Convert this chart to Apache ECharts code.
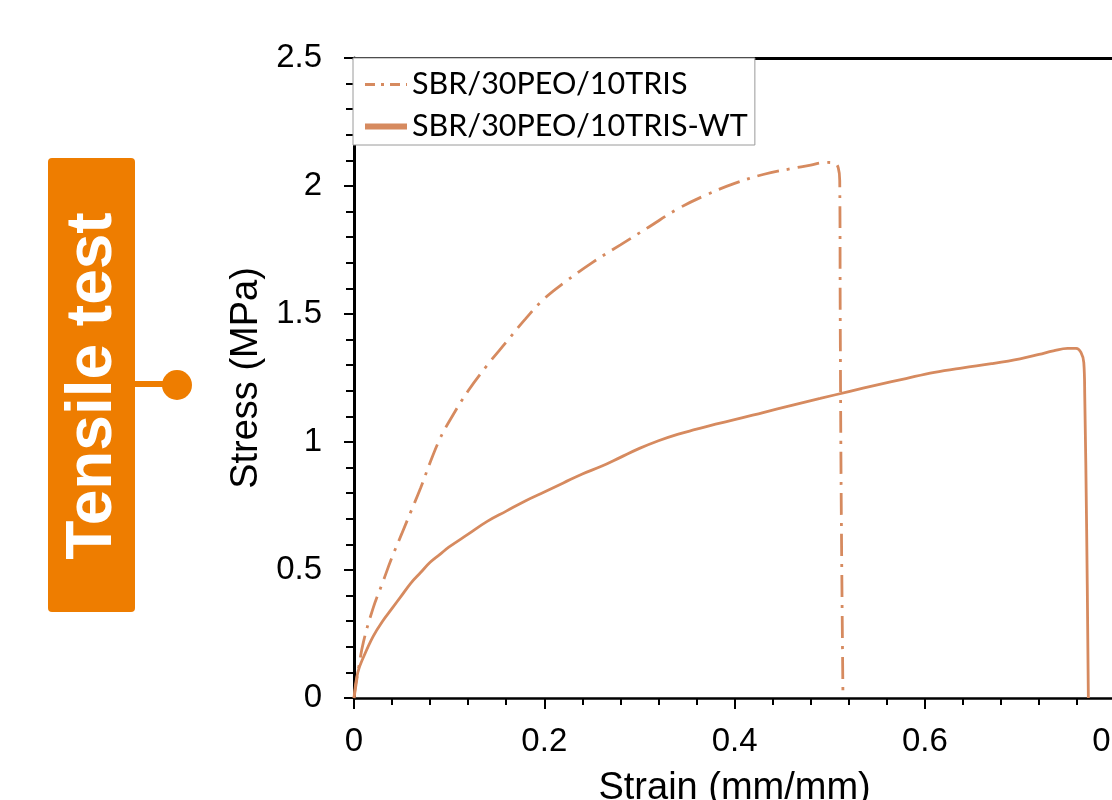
<!DOCTYPE html>
<html>
<head>
<meta charset="utf-8">
<script src="https://cdn.jsdelivr.net/npm/echarts@6/dist/echarts.min.js"></script>
<style>
  html, body { margin: 0; padding: 0; background: #ffffff; }
  #chart { width: 1112px; height: 800px; }
</style>
</head>
<body>
<div id="chart"></div>
<script>
// Tensile test: stress-strain curves of two SBR/PEO/TRIS films
const seriesNames = ['SBR/30PEO/10TRIS', 'SBR/30PEO/10TRIS-WT'];

// SBR/30PEO/10TRIS (dash-dot curve)
const strainTris = [0, 0.005, 0.01, 0.02, 0.03, 0.04, 0.05, 0.06, 0.07, 0.08, 0.09, 0.10,
  0.12, 0.14, 0.16, 0.18, 0.20, 0.22, 0.25, 0.28, 0.31, 0.34, 0.37, 0.40, 0.43, 0.46,
  0.48, 0.495, 0.505, 0.509, 0.5105, 0.511, 0.512, 0.5139];
const stressTris = [0, 0.12, 0.22, 0.35, 0.45, 0.55, 0.64, 0.73, 0.82, 0.92, 1.01, 1.08,
  1.20, 1.30, 1.39, 1.48, 1.56, 1.62, 1.70, 1.77, 1.84, 1.91, 1.965, 2.01, 2.045, 2.068,
  2.082, 2.092, 2.09, 2.07, 2.02, 1.5, 0.8, 0];

// SBR/30PEO/10TRIS-WT (solid curve)
const strainWt = [0, 0.004, 0.01, 0.02, 0.03, 0.04, 0.05, 0.06, 0.07, 0.08, 0.09, 0.10,
  0.12, 0.14, 0.16, 0.18, 0.20, 0.22, 0.24, 0.26, 0.28, 0.30, 0.32, 0.34, 0.36, 0.38, 0.40,
  0.43, 0.46, 0.49, 0.52, 0.55, 0.58, 0.61, 0.64, 0.67, 0.70, 0.72, 0.735, 0.75, 0.759,
  0.764, 0.767, 0.768, 0.770, 0.7718];
const stressWt = [0, 0.10, 0.16, 0.24, 0.30, 0.35, 0.40, 0.45, 0.49, 0.53, 0.56, 0.59,
  0.64, 0.69, 0.73, 0.77, 0.805, 0.84, 0.875, 0.905, 0.94, 0.975, 1.005, 1.03, 1.05, 1.07, 1.087,
  1.115, 1.143, 1.17, 1.197, 1.223, 1.248, 1.272, 1.29, 1.306, 1.325, 1.342, 1.356, 1.366, 1.366,
  1.35, 1.31, 1.18, 0.656, 0];

// Axis ticks
const strainTicks = [0, 0.2, 0.4, 0.6, 0.8];
const stressTicks = [0, 0.5, 1, 1.5, 2, 2.5];

const curveColor = '#D68A5F';
const badgeColor = '#EE7D00';

const pairs = (xs, ys) => xs.map((x, i) => [x, ys[i]]);

const chart = echarts.init(document.getElementById('chart'), null, { renderer: 'canvas' });

const tickFont = { fontFamily: 'Liberation Sans, Arial, sans-serif', fontSize: 33, color: '#000' };
const titleFont = { fontFamily: 'Liberation Sans, Arial, sans-serif', fontSize: 38, color: '#000' };

chart.setOption({
  backgroundColor: '#ffffff',
  animation: false,
  grid: {
    left: 354, top: 58, width: 761.2, height: 640,
    containLabel: false,
    outerBoundsMode: 'none'
  },
  legend: {
    orient: 'vertical',
    left: 353, top: 58,
    padding: [11, 7, 3, 9],
    itemGap: 11,
    itemWidth: 42, itemHeight: 14,
    backgroundColor: '#ffffff',
    borderColor: '#9a9a9a', borderWidth: 1,
    itemStyle: { opacity: 0, borderWidth: 0 },
    textStyle: { fontFamily: 'Lato, Carlito, sans-serif', fontSize: 30.5, color: '#000' },
    data: [
      { name: seriesNames[0], itemStyle: { opacity: 0 }, lineStyle: { width: 3, type: [10, 6, 3, 6] } },
      { name: seriesNames[1], itemStyle: { opacity: 0 }, lineStyle: { width: 6, type: 'solid' } }
    ]
  },
  xAxis: [{
    type: 'value',
    min: strainTicks[0], max: strainTicks[strainTicks.length - 1],
    interval: strainTicks[1] - strainTicks[0],
    name: 'Strain (mm/mm)', nameLocation: 'middle', nameGap: 72,
    nameTextStyle: titleFont,
    axisLine: { show: true, onZero: false, lineStyle: { color: '#000', width: 2.6 } },
    axisTick: { show: true, inside: false, length: 11, lineStyle: { color: '#000', width: 2 } },
    minorTick: { show: true, splitNumber: 5, length: 7, lineStyle: { color: '#000', width: 2 } },
    axisLabel: Object.assign({ margin: 27 }, tickFont),
    splitLine: { show: false }
  }, {
    type: 'value', position: 'top',
    min: strainTicks[0], max: strainTicks[strainTicks.length - 1],
    axisLine: { show: true, onZero: false, lineStyle: { color: '#000', width: 3.2 } },
    axisTick: { show: false }, axisLabel: { show: false }, splitLine: { show: false }
  }],
  yAxis: {
    type: 'value',
    min: stressTicks[0], max: stressTicks[stressTicks.length - 1],
    interval: stressTicks[1] - stressTicks[0],
    name: 'Stress (MPa)', nameLocation: 'middle', nameGap: 85,
    nameTextStyle: titleFont,
    axisLine: { show: true, onZero: false, lineStyle: { color: '#000', width: 3 } },
    axisTick: { show: true, inside: false, length: 10, lineStyle: { color: '#000', width: 2 } },
    minorTick: { show: true, splitNumber: 5, length: 8, lineStyle: { color: '#000', width: 2 } },
    axisLabel: Object.assign({ margin: 32 }, tickFont),
    splitLine: { show: false }
  },
  series: [{
    name: seriesNames[0],
    type: 'line',
    data: pairs(strainTris, stressTris),
    symbol: 'none', showSymbol: false,
    smooth: 0.4,
    color: curveColor,
    lineStyle: { color: curveColor, width: 2.8, type: [22, 8, 3, 8], cap: 'butt' },
    z: 2
  }, {
    name: seriesNames[1],
    type: 'line',
    data: pairs(strainWt, stressWt),
    symbol: 'none', showSymbol: false,
    smooth: 0.4,
    color: curveColor,
    lineStyle: { color: curveColor, width: 2.8, type: 'solid' },
    z: 2
  }],
  graphic: [
    { type: 'rect', shape: { x: 48, y: 158, width: 87, height: 454, r: 4 },
      style: { fill: badgeColor }, z: 10 },
    { type: 'text', x: 93, y: 386, rotation: Math.PI / 2,
      style: { text: 'Tensile test', fill: '#ffffff', fontSize: 64, fontWeight: 'bold',
               fontFamily: 'Liberation Sans, Arial, sans-serif',
               align: 'center', verticalAlign: 'middle' }, z: 11 },
    { type: 'line', shape: { x1: 134, y1: 384, x2: 168, y2: 384 },
      style: { stroke: badgeColor, lineWidth: 6 }, z: 10 },
    { type: 'circle', shape: { cx: 177, cy: 385, r: 15 },
      style: { fill: badgeColor }, z: 10 }
  ]
});
</script>
</body>
</html>
